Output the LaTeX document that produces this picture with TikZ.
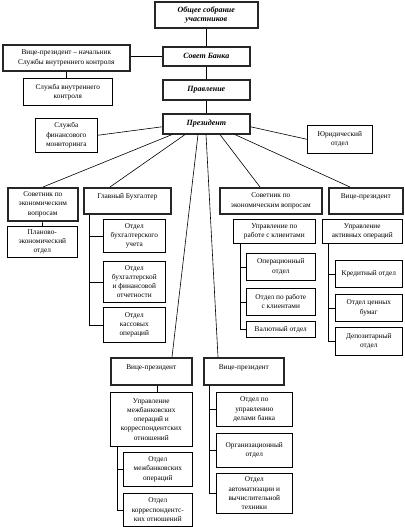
\documentclass[tikz,border=0pt]{standalone}
\usepackage{fontspec}
\setmainfont{Liberation Serif}
\begin{document}
\begin{tikzpicture}[x=1pt,y=-1pt,line width=0.6pt,
	box/.style={draw, anchor=north west, align=center, inner sep=1pt, font=\fontsize{7.3}{9.2}\selectfont},
	thinbox/.style={box},
	thickbox/.style={box, line width=1.6pt, draw=black!85},
	head/.style={thickbox, font=\fontsize{8}{9.5}\selectfont\bfseries\itshape}]
	\useasboundingbox (0,0) rectangle (404,527);

	\foreach \n/\x/\y/\w/\h/\t in {obs/154/1/103/26/{Общее собрание\\участников},
		sovet/162/46/87/19/{Совет Банка}, prav/162/79/87/20/{Правление},
		pres/162/113/87/20/{Президент}}
		\node[head, minimum width=\w pt, minimum height=\h pt] (\n) at (\x,\y) {\t};

	\foreach \n/\x/\y/\w/\h/\t in {vpk/2/44/127/26/{Вице-президент – начальник\\Службы внутреннего контроля},
		sovL/7/187/70/33/{Советник по\\экономическим\\вопросам},
		glb/83/187/87/26/{Главный Бухгалтер\\~},
		sovR/219/187/102/26/{Советник по\\экономическим вопросам},
		vpR/328/187/74/26/{Вице-президент\\~},
		vpBL/110/357/81/27/{Вице-президент\\~},
		vpBR/203/357/80/27/{Вице-президент\\~}}
		\node[thickbox, minimum width=\w pt, minimum height=\h pt] (\n) at (\x,\y) {\t};

	\foreach \n/\x/\y/\w/\h/\t in {svk/23/78/89/27/{Служба внутреннего\\контроля},
		sfm/35/118/62/34/{Служба\\финансового\\мониторинга},
		jur/307/125/65/28/{Юридический\\отдел},
		plan/7/226/70/31/{Планово-\\экономический\\отдел},
		bu/103/219/62/33/{Отдел\\бухгалтерского\\учета},
		bfo/103/261/62/41/{Отдел\\бухгалтерской\\и финансовой\\отчетности},
		kas/103/307/62/35/{Отдел\\кассовых\\операций},
		ukl/233/219/82/24/{Управление по\\работе с клиентами},
		oper/246/253/69/27/{Операционный\\отдел},
		okl/246/288/69/27/{Отдел по работе\\с клиентами},
		val/246/321/69/16/{Валютный отдел},
		uao/322/219/80/24/{Управление\\активных операций},
		kred/335/260/67/27/{Кредитный отдел},
		ocb/335/294/67/27/{Отдел ценных\\бумаг},
		dep/335/327/67/28/{Депозитарный\\отдел},
		umo/110/392/82/54/{Управление\\межбанковских\\операций и\\корреспондентских\\отношений},
		omo/123/452/69/34/{Отдел\\межбанковских\\операций},
		oko/123/493/69/33/{Отдел\\корреспондентс-\\ких отношений},
		oud/216/392/76/34/{Отдел по\\управлению\\делами банка},
		org/216/433/76/34/{Организационный\\отдел},
		avt/216/473/76/40/{Отдел\\автоматизации и\\вычислительной\\техники}}
		\node[thinbox, minimum width=\w pt, minimum height=\h pt] (\n) at (\x,\y) {\t};

	% vertical chain
	\draw (obs) -- (sovet);
	\draw (sovet) -- (prav);
	\draw (prav) -- (pres);
	\draw (vpk.east |- sovet.west) -- (sovet.west);
	\draw (vpk.south) -- (vpk.south |- svk.north);
	\draw ([yshift=-3pt]pres.west) -- (sfm.east);
	\draw ([yshift=-3pt]pres.east) -- (jur.west);

	% lines from the president
	\foreach \s/\n/\e in {10/sovL/36, 23/glb/27, 36/vpBL/62, 44/vpBR/15, 58/sovR/41, 73/vpR/22}
		\draw ([xshift=\s pt]pres.south west) -- ([xshift=\e pt]\n.north west);

	\draw (sovL) -- (plan);
	\draw ([xshift=47pt]vpBL.south west) -- ([xshift=47pt]umo.north west);

	% trees
	\coordinate (glbt) at ([xshift=6pt]glb.south west);
	\coordinate (uklt) at ([xshift=7pt]ukl.south west);
	\coordinate (uaot) at ([xshift=6pt]uao.south west);
	\coordinate (umot) at ([xshift=7pt]umo.south west);
	\coordinate (vpbt) at ([xshift=6pt]vpBR.south west);
	\foreach \n in {bu,bfo,kas}
		\draw (glbt) |- (\n.west);
	\foreach \n in {oper,okl,val}
		\draw (uklt) |- (\n.west);
	\foreach \n in {kred,ocb,dep}
		\draw (uaot) |- (\n.west);
	\foreach \n in {omo,oko}
		\draw (umot) |- (\n.west);
	\foreach \n in {oud,org,avt}
		\draw (vpbt) |- (\n.west);
\end{tikzpicture}
\end{document}
